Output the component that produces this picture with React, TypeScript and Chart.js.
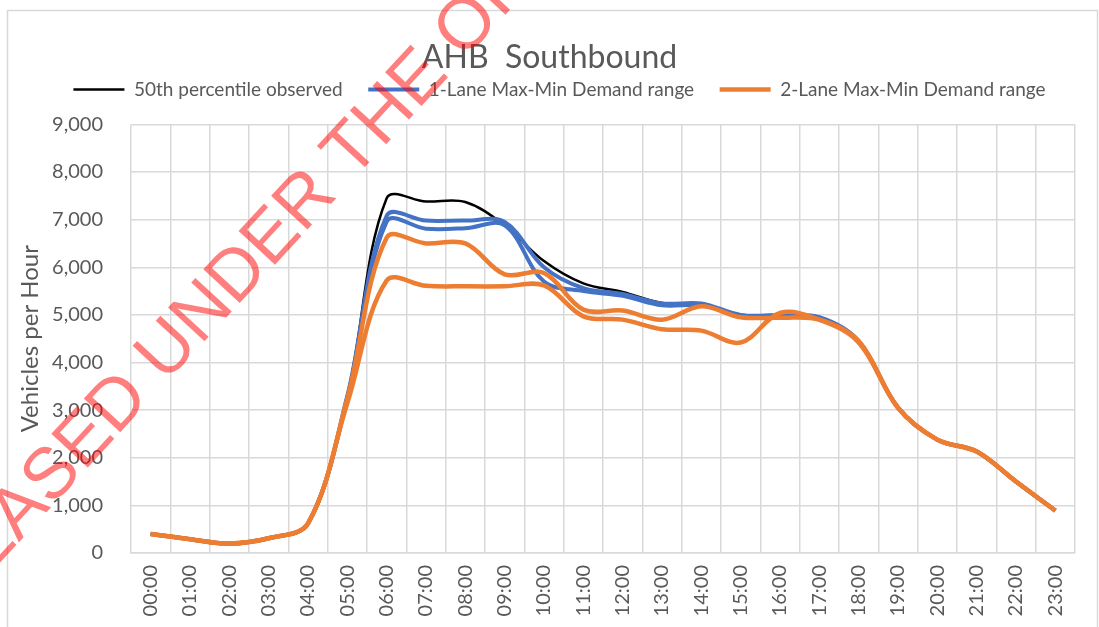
import React, { useEffect, useRef } from 'react';
import { Chart, registerables } from 'chart.js';

Chart.register(...registerables);

const hours = [
  '00:00', '01:00', '02:00', '03:00', '04:00', '05:00', '06:00', '07:00',
  '08:00', '09:00', '10:00', '11:00', '12:00', '13:00', '14:00', '15:00',
  '16:00', '17:00', '18:00', '19:00', '20:00', '21:00', '22:00', '23:00',
];

const observed50 = [400, 290, 200, 310, 620, 3300, 7450, 7380, 7370, 6880, 6130, 5660, 5480, 5250, 5230, 5000, 5000, 4950, 4450, 3050, 2380, 2130, 1500, 890];
const lane1Max = [400, 290, 200, 310, 620, 3300, 7080, 6980, 6980, 6950, 6000, 5560, 5440, 5240, 5240, 5000, 4990, 4950, 4450, 3050, 2380, 2130, 1500, 890];
const lane1Min = [400, 290, 200, 310, 620, 3250, 6960, 6810, 6820, 6880, 5700, 5500, 5400, 5200, 5200, 4980, 4960, 4930, 4450, 3050, 2380, 2130, 1500, 890];
const lane2Max = [400, 290, 200, 310, 620, 3250, 6620, 6500, 6500, 5850, 5880, 5110, 5090, 4900, 5180, 4950, 4940, 4900, 4450, 3050, 2380, 2130, 1500, 890];
const lane2Min = [400, 290, 200, 310, 620, 3150, 5720, 5610, 5600, 5600, 5620, 4970, 4900, 4700, 4670, 4420, 5040, 4900, 4420, 3050, 2380, 2130, 1500, 890];

const seriesNames = [
  '50th percentile observed',
  '1-Lane Max-Min Demand range',
  '1-Lane Max-Min Demand range',
  '2-Lane Max-Min Demand range',
  '2-Lane Max-Min Demand range',
];

const chartTitle = 'AHB  Southbound';
const yTitle = 'Vehicles per Hour';
const watermark = 'RELEASED UNDER THE OFFICIAL INFORMATION ACT';

const BLACK = '#000000';
const BLUE = '#4472C4';
const ORANGE = '#ED7D31';
const TEXT = '#595959';
const GRID = '#d9d9d9';
const FONT = 'Lato';

const framePlugin = {
  id: 'frame',
  afterInit(chart: any) {
    const legend = chart.legend;
    if (legend && !legend.__spaced) {
      const fit = legend.fit;
      legend.fit = function () {
        fit.call(this);
        this.height += 15.5;
      };
      legend.__spaced = true;
    }
  },
  afterLayout(chart: any) {
    const legend = chart.legend;
    if (legend) {
      legend.left += 10;
      legend.right += 10;
    }
  },
  beforeDraw(chart: any) {
    const ctx = chart.ctx;
    ctx.save();
    ctx.fillStyle = '#ffffff';
    ctx.fillRect(0, 0, chart.width, chart.height);
    ctx.strokeStyle = GRID;
    ctx.lineWidth = 1.5;
    ctx.strokeRect(7.5, 10.5, chart.width - 9, chart.height + 50);
    ctx.restore();
  },
  afterDraw(chart: any) {
    const ctx = chart.ctx;
    ctx.save();
    ctx.translate(-128, 663);
    ctx.rotate((-47.3 * Math.PI) / 180);
    ctx.font = '72px "Liberation Sans", Arial, sans-serif';
    ctx.fillStyle = 'rgba(255, 0, 0, 0.5)';
    ctx.textBaseline = 'alphabetic';
    ctx.textAlign = 'left';
    ctx.fillText(watermark, 0, 26);
    ctx.restore();
  },
};

function makeDataset(label: string, data: number[], color: string, width: number, order: number) {
  return {
    label,
    data,
    borderColor: color,
    backgroundColor: color,
    borderWidth: width,
    pointRadius: 0,
    pointHoverRadius: 0,
    pointStyle: 'line',
    tension: 0.35,
    fill: false,
    order,
  };
}

export default function App() {
  const canvasRef = useRef<HTMLCanvasElement | null>(null);

  useEffect(() => {
    if (!canvasRef.current) return;
    const chart = new Chart(canvasRef.current, {
      type: 'line',
      data: {
        labels: hours,
        datasets: [
          makeDataset(seriesNames[0], observed50, BLACK, 2.5, 2),
          makeDataset(seriesNames[1], lane1Max, BLUE, 4, 1),
          makeDataset(seriesNames[2], lane1Min, BLUE, 4, 1),
          makeDataset(seriesNames[3], lane2Max, ORANGE, 4.5, 0),
          makeDataset(seriesNames[4], lane2Min, ORANGE, 4.5, 0),
        ] as any,
      },
      options: {
        responsive: false,
        animation: false,
        events: [],
        layout: { padding: { left: 24, right: 24, top: 0, bottom: 0 } },
        plugins: {
          title: {
            display: true,
            text: chartTitle,
            color: TEXT,
            font: { family: FONT, size: 32, weight: 'normal' },
            padding: { top: 38, bottom: -22 },
          },
          legend: {
            display: true,
            position: 'top',
            labels: {
              color: TEXT,
              font: { family: FONT, size: 19 },
              usePointStyle: true,
              pointStyleWidth: 51,
              padding: 25.5,
              filter: (item: any) => item.datasetIndex === 0 || item.datasetIndex === 1 || item.datasetIndex === 3,
              sort: (a: any, b: any) => a.datasetIndex - b.datasetIndex,
            },
          },
          tooltip: { enabled: false },
        },
        scales: {
          x: {
            type: 'category',
            offset: true,
            grid: { display: true, color: GRID, lineWidth: 1.5, offset: true, drawTicks: false },
            border: { display: true, color: GRID, width: 1.5 },
            ticks: {
              color: TEXT,
              font: { family: FONT, size: 20 },
              autoSkip: false,
              maxRotation: 90,
              minRotation: 90,
              padding: 12,
            },
            afterFit: (scale: any) => {
              scale.height = 74;
            },
          },
          y: {
            min: 0,
            max: 9000,
            grid: { color: GRID, lineWidth: 1.5, drawTicks: false },
            border: { display: false },
            ticks: {
              stepSize: 1000,
              color: TEXT,
              font: { family: FONT, size: 20 },
              padding: 28,
              callback: (v: any) => Number(v).toLocaleString('en-US'),
            },
            title: {
              display: true,
              text: yTitle,
              color: TEXT,
              font: { family: FONT, size: 24 },
              padding: { top: -8, bottom: 0 },
            },
            afterFit: (scale: any) => {
              scale.width = 107;
            },
          },
        },
      } as any,
      plugins: [framePlugin],
    });
    return () => chart.destroy();
  }, []);

  return (
    <div style={{ position: 'absolute', left: 0, top: 0, width: 1099, height: 627 }}>
      <canvas ref={canvasRef} width={1099} height={627} style={{ display: 'block', width: 1099, height: 627 }} />
    </div>
  );
}
